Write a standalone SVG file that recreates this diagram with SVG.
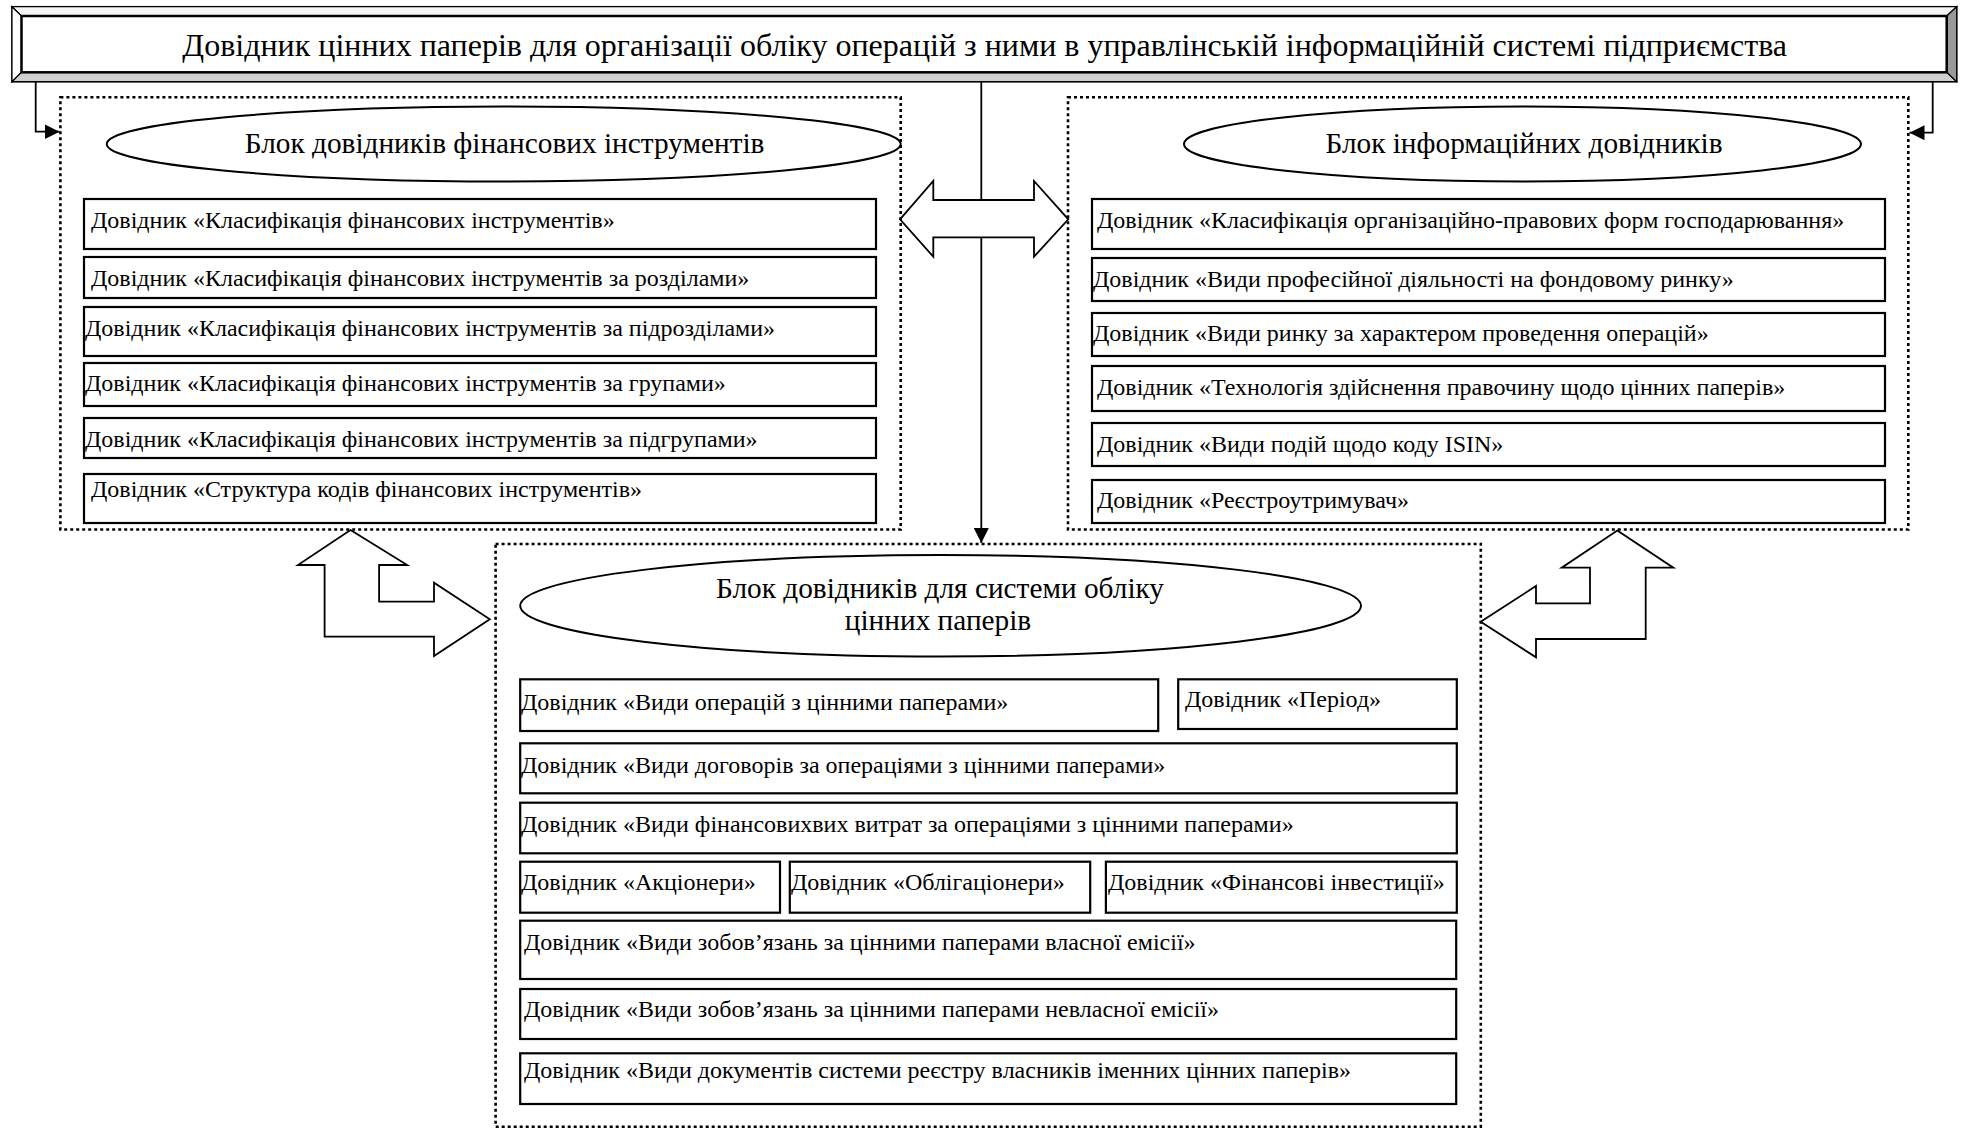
<svg xmlns="http://www.w3.org/2000/svg" width="1963" height="1129" viewBox="0 0 1963 1129">
<defs>
<style>
text{font-family:"Liberation Serif","Times New Roman",serif;fill:#000}
.t{font-size:24px}
.h{font-size:29.3px;text-anchor:middle}
.ttl{font-size:32px;text-anchor:middle}
.box{fill:#fff;stroke:#000;stroke-width:2.2}
.blk{fill:none;stroke:#000;stroke-width:2.6;stroke-dasharray:3 3}
.ell{fill:#fff;stroke:#000;stroke-width:2}
.ln{fill:none;stroke:#000;stroke-width:1.8}
.arr{fill:#fff;stroke:#000;stroke-width:1.8;stroke-linejoin:miter}
</style>
<marker id="ah2" viewBox="0 0 10 10" refX="10" refY="5" markerWidth="15" markerHeight="15" markerUnits="userSpaceOnUse" orient="auto">
<path d="M0,0 L10,5 L0,10 z" fill="#000"/>
</marker>
</defs>
<rect width="1963" height="1129" fill="#fff"/>

<g id="connectors">
<polyline class="ln" points="35.7,81.7 35.7,131.7 59.5,131.7" marker-end="url(#ah2)"/>
<polyline class="ln" points="1932.7,81.7 1932.7,132.7 1909.5,132.7" marker-end="url(#ah2)"/>
<line class="ln" x1="981.3" y1="81.7" x2="981.3" y2="543" marker-end="url(#ah2)"/>
<polygon id="arrow-lr" class="arr" points="900,219.3 933.3,181 933.3,200 1034,200 1034,181 1068.3,219.3 1034,256.7 1034,237.3 933.3,237.3 933.3,256.7"/>
<polygon id="arrow-left-bottom" class="arr" points="350.5,530 407.2,565 379.1,565 379.1,601.7 434,601.7 434,582.7 489.8,619.3 434,656 434,636.7 324.6,636.7 324.6,565 297.9,565"/>
<polygon id="arrow-right-bottom" class="arr" points="1617.3,530.5 1673.3,567.7 1645.7,567.7 1645.7,639 1536,639 1536,657.3 1480.7,621.7 1536,586 1536,603.3 1590,603.3 1590,567.7 1561.7,567.7"/>
</g>

<g id="title">
<rect x="12" y="6.7" width="1944.7" height="75" fill="#fff" stroke="#000" stroke-width="1.5"/>
<polygon points="12,6.7 1956.7,6.7 1946.7,16 21.5,16" fill="#f4f4f4" stroke="#000" stroke-width="1.2"/>
<polygon points="12,6.7 21.5,16 21.5,72.3 12,81.7" fill="#fff" stroke="#000" stroke-width="1.2"/>
<polygon points="12,81.7 21.5,72.3 1946.7,72.3 1956.7,81.7" fill="#d0d0d0" stroke="#000" stroke-width="1.2"/>
<polygon points="1956.7,6.7 1956.7,81.7 1946.7,72.3 1946.7,16" fill="#999" stroke="#000" stroke-width="1.2"/>
<rect x="21.5" y="16" width="1925.2" height="56.3" fill="#fff" stroke="#000" stroke-width="2.5"/>
<text class="ttl" x="984.7" y="55.5">Довідник цінних паперів для організації обліку операцій з ними в управлінській інформаційній системі підприємства</text>
</g>

<g id="block-fin">
<rect class="blk" x="60.4" y="97.3" width="840.3" height="432.2"/>
<ellipse class="ell" cx="503.7" cy="144" rx="397" ry="37.5"/>
<text class="h" x="504.6" y="153">Блок довідників фінансових інструментів</text>
</g>
<g id="fin-1"><rect class="box" x="84" y="199" width="792" height="50"/><text class="t" x="91" y="228">Довідник «Класифікація фінансових інструментів»</text></g>
<g id="fin-2"><rect class="box" x="84" y="257" width="792" height="41"/><text class="t" x="91" y="286">Довідник «Класифікація фінансових інструментів за розділами»</text></g>
<g id="fin-3"><rect class="box" x="84" y="307" width="792" height="49"/><text class="t" x="85" y="336">Довідник «Класифікація фінансових інструментів за підрозділами»</text></g>
<g id="fin-4"><rect class="box" x="84" y="363" width="792" height="43"/><text class="t" x="85" y="391">Довідник «Класифікація фінансових інструментів за групами»</text></g>
<g id="fin-5"><rect class="box" x="84" y="418" width="792" height="40"/><text class="t" x="85" y="447">Довідник «Класифікація фінансових інструментів за підгрупами»</text></g>
<g id="fin-6"><rect class="box" x="84" y="474" width="792" height="49"/><text class="t" x="91" y="497">Довідник «Структура кодів фінансових інструментів»</text></g>

<g id="block-info">
<rect class="blk" x="1068" y="97.3" width="840.3" height="432.2"/>
<ellipse class="ell" cx="1522.5" cy="144" rx="338.5" ry="37.5"/>
<text class="h" x="1524" y="153">Блок інформаційних довідників</text>
</g>
<g id="info-1"><rect class="box" x="1092" y="199" width="793" height="50"/><text class="t" x="1097" y="228">Довідник «Класифікація організаційно-правових форм господарювання»</text></g>
<g id="info-2"><rect class="box" x="1092" y="258" width="793" height="43"/><text class="t" x="1093" y="287">Довідник «Види професійної діяльності на фондовому ринку»</text></g>
<g id="info-3"><rect class="box" x="1092" y="313" width="793" height="43"/><text class="t" x="1093" y="341">Довідник «Види ринку за характером проведення операцій»</text></g>
<g id="info-4"><rect class="box" x="1092" y="366" width="793" height="45"/><text class="t" x="1097" y="395">Довідник «Технологія здійснення правочину щодо цінних паперів»</text></g>
<g id="info-5"><rect class="box" x="1092" y="423" width="793" height="43"/><text class="t" x="1097" y="452">Довідник «Види подій щодо коду ISIN»</text></g>
<g id="info-6"><rect class="box" x="1092" y="480" width="793" height="43"/><text class="t" x="1097" y="508">Довідник «Реєстроутримувач»</text></g>

<g id="block-acc">
<rect class="blk" x="495.6" y="544" width="985.2" height="582.7"/>
<ellipse class="ell" cx="940.6" cy="605.8" rx="420.4" ry="50.8"/>
<text class="h" x="940" y="598.3">Блок довідників для системи обліку</text>
<text class="h" x="938" y="630">цінних паперів</text>
</g>
<g id="acc-1"><rect class="box" x="520.2" y="679.3" width="638" height="51.7"/><text class="t" x="521" y="710">Довідник «Види операцій з цінними паперами»</text></g>
<g id="acc-2"><rect class="box" x="1178.2" y="679.3" width="278.6" height="49.7"/><text class="t" x="1185" y="707">Довідник «Період»</text></g>
<g id="acc-3"><rect class="box" x="520.2" y="743.3" width="936.6" height="50"/><text class="t" x="521" y="773">Довідник «Види договорів за операціями з цінними паперами»</text></g>
<g id="acc-4"><rect class="box" x="520.2" y="802.7" width="936.6" height="50.6"/><text class="t" x="521" y="832">Довідник «Види фінансовихвих витрат за операціями з цінними паперами»</text></g>
<g id="acc-5"><rect class="box" x="520.2" y="861.7" width="259.8" height="51"/><text class="t" x="521" y="890">Довідник «Акціонери»</text></g>
<g id="acc-6"><rect class="box" x="789.8" y="861.7" width="300.4" height="51"/><text class="t" x="791" y="890">Довідник «Облігаціонери»</text></g>
<g id="acc-7"><rect class="box" x="1105.9" y="861.7" width="350.9" height="51"/><text class="t" x="1108" y="890">Довідник «Фінансові інвестиції»</text></g>
<g id="acc-8"><rect class="box" x="520.2" y="920.7" width="936" height="58.3"/><text class="t" x="524" y="950">Довідник «Види зобов’язань за цінними паперами власної емісії»</text></g>
<g id="acc-9"><rect class="box" x="520.2" y="989" width="936" height="50"/><text class="t" x="524" y="1017">Довідник «Види зобов’язань за цінними паперами невласної емісії»</text></g>
<g id="acc-10"><rect class="box" x="520.2" y="1053.3" width="936" height="50.7"/><text class="t" x="524" y="1078">Довідник «Види документів системи реєстру власників іменних цінних паперів»</text></g>
</svg>
